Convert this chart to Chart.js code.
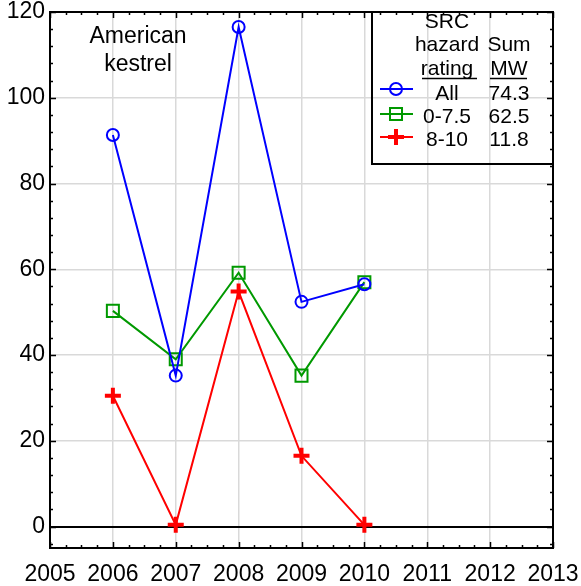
<!DOCTYPE html>
<html>
<head>
<meta charset="utf-8">
<script src="https://cdn.jsdelivr.net/npm/chart.js@4.4.0/dist/chart.umd.min.js"></script>
<style>
    html, body { margin: 0; padding: 0; background: #fff; }
    #kestrelChart { display: block; }
</style>
</head>
<body>
<canvas id="kestrelChart" width="581" height="586"></canvas>
<script>
// Data
const years = [2006, 2007, 2008, 2009, 2010];
const allValues = [91.3, 35.2, 116.5, 52.4, 56.5];
const lowValues = [50.3, 39.0, 59.2, 35.2, 57.0];
const highValues = [30.5, 0.4, 54.8, 16.5, 0.4];

const seriesLabels = ['All', '0-7.5', '8-10'];
const sumMW = ['74.3', '62.5', '11.8'];
const xTickValues = [2005, 2006, 2007, 2008, 2009, 2010, 2011, 2012, 2013];
const yTickValues = [0, 20, 40, 60, 80, 100, 120];

const FONT = "'Liberation Sans', Arial, sans-serif";

const toPoints = (vals) => vals.map((v, i) => ({ x: years[i], y: v }));

// Frame, inside tick marks, title and the hand-made legend box
const framePlugin = {
    id: 'frame',
    afterDatasetsDraw(chart) {
        const ctx = chart.ctx;
        const { left, right, top, bottom } = chart.chartArea;
        const xs = chart.scales.x;
        const ys = chart.scales.y;
        ctx.save();

        // tick marks pointing inward on all four sides
        ctx.strokeStyle = '#000';
        ctx.lineWidth = 1.5;
        ctx.beginPath();
        for (let v = 2005; v <= 2013.001; v += 0.25) {
            const px = Math.round(xs.getPixelForValue(v)) + 0.5;
            const len = Math.abs(v - Math.round(v)) < 0.01 ? 6 : 3;
            ctx.moveTo(px, bottom); ctx.lineTo(px, bottom - len);
            ctx.moveTo(px, top); ctx.lineTo(px, top + len);
        }
        for (let v = -4; v <= 120; v += 4) {
            const py = Math.round(ys.getPixelForValue(v)) + 0.5;
            const len = v % 20 === 0 ? 6 : 3;
            ctx.moveTo(left, py); ctx.lineTo(left + len, py);
            ctx.moveTo(right, py); ctx.lineTo(right - len, py);
        }
        ctx.stroke();

        // plot border
        ctx.lineWidth = 2;
        ctx.strokeRect(left, top, right - left, bottom - top);

        // title text
        ctx.fillStyle = '#000';
        ctx.textAlign = 'center';
        ctx.textBaseline = 'middle';
        ctx.font = '23px ' + FONT;
        ctx.fillText('American', 138, 37);
        ctx.fillText('kestrel', 138, 65);

        // legend box (transparent, grid shows through)
        ctx.lineWidth = 2;
        ctx.strokeRect(372, top, right - 372, 152);

        ctx.font = '21px ' + FONT;
        ctx.fillText('SRC', 447, 22);
        ctx.fillText('hazard', 447, 45);
        ctx.fillText('rating', 447, 69);
        ctx.fillText('Sum', 509, 45);
        ctx.fillText('MW', 509, 69);
        ctx.lineWidth = 1.5;
        ctx.beginPath();
        ctx.moveTo(422, 78.5); ctx.lineTo(477, 78.5);
        ctx.moveTo(490, 78.5); ctx.lineTo(527, 78.5);
        ctx.stroke();

        const rowY = [94, 117, 140];
        const markerY = [89, 114, 137];
        chart.data.datasets.forEach((ds, i) => {
            ctx.strokeStyle = ds.borderColor;
            ctx.lineWidth = 2;
            ctx.beginPath();
            ctx.moveTo(380, markerY[i]); ctx.lineTo(413, markerY[i]);
            ctx.stroke();
            ctx.fillStyle = 'rgba(0,0,0,0)';
            ctx.lineWidth = ds.pointBorderWidth;
            Chart.helpers.drawPoint(ctx, {
                pointStyle: ds.pointStyle,
                radius: ds.pointRadius,
                borderWidth: ds.pointBorderWidth
            }, 396, markerY[i]);
            ctx.fillStyle = '#000';
            ctx.fillText(seriesLabels[i], 447, rowY[i]);
            ctx.fillText(sumMW[i], 509, rowY[i]);
        });

        ctx.restore();
    }
};

const ctx = document.getElementById('kestrelChart').getContext('2d');
new Chart(ctx, {
    type: 'line',
    data: {
        datasets: [
            {
                label: seriesLabels[0],
                data: toPoints(allValues),
                borderColor: '#0000ff',
                backgroundColor: 'transparent',
                borderWidth: 2,
                pointStyle: 'circle',
                pointRadius: 6,
                pointBorderWidth: 2,
                pointBackgroundColor: 'transparent'
            },
            {
                label: seriesLabels[1],
                data: toPoints(lowValues),
                borderColor: '#009900',
                backgroundColor: 'transparent',
                borderWidth: 2,
                pointStyle: 'rect',
                pointRadius: 8.5,
                pointBorderWidth: 2,
                pointBackgroundColor: 'transparent'
            },
            {
                label: seriesLabels[2],
                data: toPoints(highValues),
                borderColor: '#ff0000',
                backgroundColor: 'transparent',
                borderWidth: 2,
                pointStyle: 'cross',
                pointRadius: 8,
                pointBorderWidth: 4,
                pointBackgroundColor: 'transparent'
            }
        ]
    },
    options: {
        responsive: false,
        animation: false,
        layout: { padding: { top: 11, right: 28, left: 0, bottom: 0 } },
        plugins: {
            legend: { display: false },
            tooltip: { enabled: false }
        },
        elements: { line: { tension: 0 } },
        scales: {
            x: {
                type: 'linear',
                min: 2005,
                max: 2013,
                afterBuildTicks: (scale) => { scale.ticks = xTickValues.map(v => ({ value: v })); },
                afterFit: (scale) => {
                    scale.height = 38;
                    scale.paddingLeft = 0;
                    scale.paddingRight = 0;
                },
                border: { display: false },
                grid: {
                    drawTicks: false,
                    color: '#d9d9d9',
                    lineWidth: 1.5
                },
                ticks: {
                    padding: 13,
                    color: '#000',
                    font: { family: FONT, size: 23 },
                    maxRotation: 0,
                    callback: (v) => String(v)
                }
            },
            y: {
                type: 'linear',
                min: -5,
                max: 120,
                afterBuildTicks: (scale) => { scale.ticks = yTickValues.map(v => ({ value: v })); },
                afterFit: (scale) => {
                    scale.width = 50;
                    scale.paddingTop = 0;
                    scale.paddingBottom = 0;
                },
                border: { display: false },
                grid: {
                    drawTicks: false,
                    color: (c) => c.tick && c.tick.value === 0 ? '#000' : '#d9d9d9',
                    lineWidth: (c) => c.tick && c.tick.value === 0 ? 2 : 1.5
                },
                ticks: {
                    padding: 5,
                    color: '#000',
                    font: { family: FONT, size: 23 }
                }
            }
        }
    },
    plugins: [framePlugin]
});
</script>
</body>
</html>
